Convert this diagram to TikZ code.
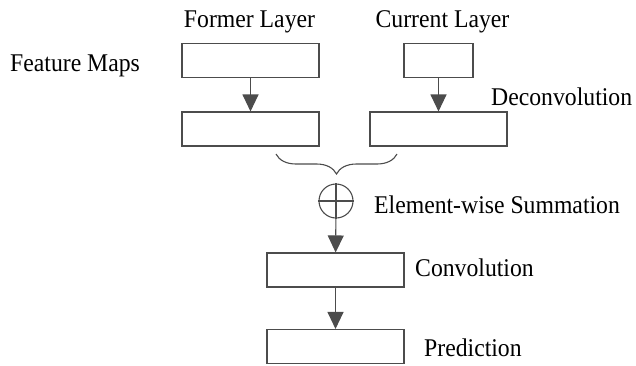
\documentclass[tikz,border=0pt]{standalone}
\usepackage{fontspec}
\setmainfont[FakeStretch=0.93]{Liberation Serif}
\usetikzlibrary{arrows.meta,decorations.pathreplacing}

\tikzset{
  fmap/.style={draw=black!70, line width=1.1pt, minimum height=34pt, inner sep=0pt},
  lbl/.style={font=\fontsize{25.5}{28}\selectfont, inner sep=0pt},
  flow/.style={draw=black!70, line width=1.1pt, -{Triangle[width=16pt,length=17pt]}}
}

\begin{document}
\begin{tikzpicture}[x=1pt, y=-1pt]
        \useasboundingbox (0,0) rectangle (636,365);
        % feature maps
        \node[fmap, minimum width=137pt] (former) at (250.5,60.5) {};
        \node[fmap, minimum width=69pt] (current) at (438.5,60.5) {};
        \node[fmap, minimum width=137pt] (formerout) at (250.5,129) {};
        \node[fmap, minimum width=137pt] (deconv) at (438.5,129) {};
        \node[fmap, minimum width=137pt] (conv) at (335.5,270) {};
        \node[fmap, minimum width=137pt] (pred) at (335.5,346.5) {};
        \node[draw=black!70, line width=1.1pt, circle, minimum size=34pt, inner sep=0pt] (sum) at (336,201) {};
        \draw[black!70, line width=1.1pt] (sum.north) -- (sum.south);
        \draw[black!70, line width=1.1pt] (sum.west) -- (sum.east);
        % labels
        \node[lbl, anchor=base] (formerlbl) at (249.5,27) {Former Layer};
        \node[lbl, anchor=base] (currentlbl) at (442.5,27) {Current Layer};
        \node[lbl, anchor=base west] (fmlbl) at (10,71.5) {Feature Maps};
        \node[lbl, anchor=base west] (deconvlbl) at (491,105) {Deconvolution};
        \node[lbl, anchor=base west] (sumlbl) at (374,213) {Element-wise Summation};
        \node[lbl, anchor=base west] (convlbl) at (415,276) {Convolution};
        \node[lbl, anchor=base west] (predlbl) at (424,356) {Prediction};
        % arrows
        \draw[flow] (former) -- (formerout);
        \draw[flow] (current) -- (deconv);
        \draw[flow] (sum) -- (conv);
        \draw[flow] (conv) -- (pred);
        \coordinate (bl) at (276,154);
        \coordinate (br) at (397,154);
        \draw[black!70, line width=1.1pt, decorate, decoration={brace, amplitude=20pt, mirror}] (bl) -- (br);
    \end{tikzpicture}
\end{document}
